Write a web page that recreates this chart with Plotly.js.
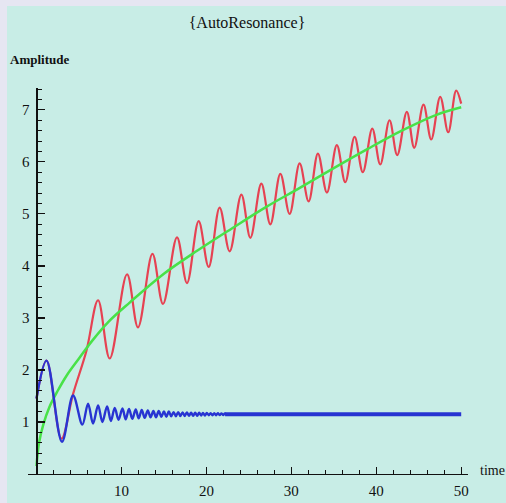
<!DOCTYPE html>
<html>
<head>
<meta charset="utf-8">
<script src="https://cdn.plot.ly/plotly-3.0.1.min.js"></script>
<style>
  html, body { margin: 0; padding: 0; background: #e6e6f2; width: 506px; height: 503px; overflow: hidden; }
  #chart { position: absolute; left: 7px; top: 6px; width: 499px; height: 497px; }
</style>
</head>
<body>
<div id="chart"></div>
<script>
// Red: driven amplitude (extrema and a few shoulder points)
const redT = [0, 1.18, 2.94, 4.31, 5.88, 7.25, 8.62, 10.66, 11.95, 13.65, 14.89, 16.54, 17.72, 19.09, 20.27,
  21.56, 22.74, 24.12, 25.18, 26.47, 27.53, 28.71, 29.80, 30.98, 32.04, 33.13, 34.19, 35.36, 36.35,
  37.45, 38.42, 39.53, 40.47, 41.56, 42.47, 43.60, 44.47, 45.56, 46.47, 47.53, 48.47, 49.41, 50];
const redY = [1.45, 2.18, 0.68, 1.54, 2.37, 3.34, 2.22, 3.84, 2.82, 4.23, 3.27, 4.55, 3.67, 4.86, 3.98,
  5.12, 4.28, 5.37, 4.54, 5.58, 4.80, 5.77, 5.00, 5.97, 5.24, 6.16, 5.41, 6.32, 5.61,
  6.48, 5.80, 6.64, 5.95, 6.80, 6.13, 6.96, 6.27, 7.10, 6.43, 7.25, 6.57, 7.37, 7.12];

// Green: smooth growth curve
const greenT = [0, 0.3, 0.8, 1.5, 2.5, 3.5, 5, 6.5, 8.5, 11, 15, 19, 23, 27, 31, 35, 39, 43, 47, 50];
const greenY = [0.15, 0.6, 0.95, 1.28, 1.6, 1.88, 2.22, 2.55, 2.93, 3.3, 3.85, 4.3, 4.72, 5.13, 5.5, 5.88, 6.25, 6.6, 6.9, 7.05];

// Blue: oscillation that settles (extrema)
const blueT = [0, 1.18, 3.0, 4.31, 5.4, 6.07, 6.66, 7.25, 7.76, 8.31, 8.76, 9.21, 9.66, 10.12, 10.5, 10.89,
  11.28, 11.68, 12.03, 12.39, 12.74, 13.10, 13.43, 13.76, 14.07, 14.39, 14.7, 15.0, 15.29, 15.58,
  15.86, 16.14, 16.41, 16.68, 16.94, 17.2, 17.45, 17.7, 17.95, 18.2, 18.44, 18.68, 18.92, 19.15,
  19.38, 19.6, 19.83, 20.05, 20.28, 20.5, 20.72, 20.93, 21.14, 21.35, 21.56, 21.77, 21.97, 22.18, 22.4];
const blueY = [1.45, 2.18, 0.62, 1.51, 0.95, 1.35, 0.97, 1.32, 1.00, 1.30, 1.02, 1.27, 1.04, 1.26, 1.05, 1.25,
  1.06, 1.24, 1.07, 1.23, 1.08, 1.22, 1.09, 1.21, 1.09, 1.21, 1.10, 1.20, 1.10, 1.20,
  1.11, 1.19, 1.11, 1.19, 1.115, 1.185, 1.115, 1.185, 1.12, 1.18, 1.12, 1.18, 1.12, 1.18,
  1.125, 1.175, 1.125, 1.175, 1.13, 1.17, 1.13, 1.17, 1.13, 1.17, 1.135, 1.165, 1.135, 1.165, 1.14];
const blueTailT = [22.2, 50];
const blueTailY = [1.15, 1.15];

// Tick labels
const xTicks = [10, 20, 30, 40, 50];
const yTicks = [1, 2, 3, 4, 5, 6, 7];

const serif = 'Liberation Serif, Times New Roman, serif';

const traces = [
  { x: redT, y: redY, mode: 'lines', line: { color: 'rgb(230,66,82)', width: 2.2, shape: 'spline', smoothing: 1 }, hoverinfo: 'skip' },
  { x: greenT, y: greenY, mode: 'lines', line: { color: 'rgb(72,226,72)', width: 2.5, shape: 'spline', smoothing: 1 }, hoverinfo: 'skip' },
  { x: blueT, y: blueY, mode: 'lines', line: { color: 'rgb(40,52,210)', width: 2.4, shape: 'spline', smoothing: 1 }, hoverinfo: 'skip' },
  { x: blueTailT, y: blueTailY, mode: 'lines', line: { color: 'rgb(40,52,210)', width: 4 }, hoverinfo: 'skip' }
];

const layout = {
  width: 499, height: 497,
  paper_bgcolor: '#c8ede6', plot_bgcolor: '#c8ede6',
  showlegend: false,
  margin: { l: 21, r: 37.5, t: 82.2, b: 29, pad: 0 },
  title: {
    text: '{AutoResonance}',
    font: { family: serif, size: 16, color: '#111' },
    xref: 'container', yref: 'container', x: 0.481, xanchor: 'center', y: 0.968, yanchor: 'middle'
  },
  xaxis: {
    range: [-1, 50.8], showgrid: false, zeroline: false,
    showline: true, linecolor: '#111', linewidth: 1.2,
    tickmode: 'array', tickvals: xTicks,
    ticks: 'inside', ticklen: 7, tickcolor: '#111', tickwidth: 1.2,
    ticklabelstandoff: 3,
    tickfont: { family: serif, size: 15, color: '#111' },
    minor: { tickmode: 'linear', tick0: 0, dtick: 2, ticks: 'inside', ticklen: 4, tickcolor: '#111', tickwidth: 1, showgrid: false },
    fixedrange: true
  },
  yaxis: {
    range: [0, 7.42], showgrid: false, zeroline: false,
    anchor: 'free', position: 1 / 51.8,
    showline: true, linecolor: '#111', linewidth: 1.2,
    tickmode: 'array', tickvals: yTicks,
    ticks: 'inside', ticklen: 7, tickcolor: '#111', tickwidth: 1.2,
    ticklabelstandoff: 4,
    tickfont: { family: serif, size: 15, color: '#111' },
    minor: { tickmode: 'linear', tick0: 0, dtick: 0.2, ticks: 'inside', ticklen: 4, tickcolor: '#111', tickwidth: 1, showgrid: false },
    fixedrange: true
  },
  annotations: [
    { text: '<b>Amplitude</b>', xref: 'paper', yref: 'paper', x: -0.045, xanchor: 'left', y: 1.073, yanchor: 'middle',
      showarrow: false, font: { family: serif, size: 13, color: '#111' } },
    { text: 'time', xref: 'paper', yref: 'paper', x: 1.022, xanchor: 'left', y: 0.008, yanchor: 'middle',
      showarrow: false, font: { family: serif, size: 14, color: '#111' } }
  ]
};

Plotly.newPlot('chart', traces, layout, { displayModeBar: false, staticPlot: true });
</script>
</body>
</html>
